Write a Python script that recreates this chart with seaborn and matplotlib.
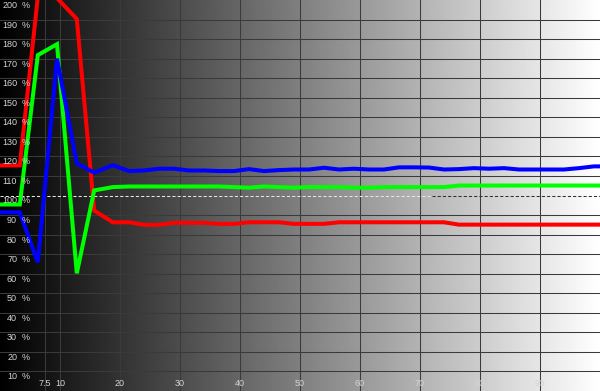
import numpy as np
import pandas as pd
import matplotlib
matplotlib.use("Agg")
import matplotlib.pyplot as plt
import seaborn as sns

# ---- data ----
x_pct = [0, 3.3, 6.3, 9.5, 12.8, 15.7, 18.8, 21.5, 24, 26.5, 29, 31.5, 34, 36.5,
         39, 41.5, 44, 46.5, 49, 51.5, 54, 56.5, 59, 61.5, 64, 66.5, 69, 71.5,
         74, 76.5, 79, 81.5, 84, 86.5, 89, 91.5, 94, 96.5, 99, 100]
red = [115.4, 115.4, 201.5, 201.0, 190.3, 92.3, 86.3, 86.3, 85.0, 85.0, 86.0, 86.0, 86.0, 85.5,
       85.5, 86.3, 86.3, 86.3, 85.5, 85.5, 85.5, 86.3, 86.3, 86.3, 86.3, 86.3, 86.3, 86.3,
       86.3, 85.1, 85.1, 85.1, 85.1, 85.1, 85.1, 85.1, 85.1, 85.1, 85.1, 85.1]
green = [95.4, 95.4, 171.8, 177.4, 60.2, 102.6, 104.3, 104.6, 104.6, 104.6, 104.6, 104.6, 104.6, 104.6,
         104.3, 104.0, 104.6, 104.3, 104.0, 104.3, 104.3, 104.3, 104.0, 104.0, 104.3, 104.3, 104.3, 104.3,
         104.3, 105.1, 105.1, 105.1, 105.1, 105.1, 105.1, 105.1, 105.1, 105.1, 105.1, 105.1]
blue = [91.4, 91.4, 65.8, 170.0, 116.4, 111.7, 115.5, 112.5, 112.8, 113.7, 113.7, 112.8, 112.8, 112.5,
        112.5, 113.5, 112.5, 113.0, 113.3, 113.3, 114.2, 113.3, 113.7, 113.3, 113.3, 114.4, 114.4, 114.3,
        113.3, 113.5, 114.0, 113.7, 114.0, 113.3, 113.3, 113.3, 113.3, 114.0, 114.9, 114.9]

y_ticks = list(range(10, 201, 10))
x_ticks = [7.5, 10, 20, 30, 40, 50, 60, 70, 80, 90]
x_labels = ["7.5", "10", "20", "30", "40", "50", "60", "70", "80", "90"]

df = pd.concat([
    pd.DataFrame({"x": x_pct, "v": red, "ch": "R"}),
    pd.DataFrame({"x": x_pct, "v": green, "ch": "G"}),
    pd.DataFrame({"x": x_pct, "v": blue, "ch": "B"}),
])

fig = plt.figure(figsize=(6, 3.91), dpi=100)
ax = fig.add_axes([0, 0, 1, 1])
ax.set_xlim(0, 100)
ax.set_ylim(0, 200)
ax.set_axis_off()

# background gradient black -> white
grad = np.linspace(0, 1, 600).reshape(1, -1)
ax.imshow(grad, extent=[0, 100, 0, 200], aspect="auto", cmap="gray",
          vmin=0, vmax=1, zorder=0, interpolation="bilinear")

grid_c = "#3a3a3a"
for v in x_ticks:
    ax.axvline(v, color=grid_c, lw=0.75, zorder=1)
for v in y_ticks:
    if v != 100 and v < 200:
        ax.axhline(v, color=grid_c, lw=0.75, zorder=1)
ax.plot([0, 72], [100, 100], color="#e6e6e6", lw=0.75, ls=(0, (3, 2)), zorder=1)
ax.plot([72, 100], [100, 100], color="#303030", lw=0.75, ls=(0, (3, 2)), zorder=1)

sns.lineplot(data=df, x="x", y="v", hue="ch", hue_order=["R", "G", "B"],
             palette={"R": "#ff0000", "G": "#00ff00", "B": "#0000ff"},
             lw=2.9, legend=False, ax=ax, zorder=3, estimator=None, sort=False)
for ln in ax.get_lines()[-3:]:
    ln.set_solid_joinstyle("miter")
ax.set_xlim(0, 100)
ax.set_ylim(0, 200)

lab_c = "#d4d4d4"
fnt = "Liberation Sans"
for v in y_ticks:
    ax.text(2.85, v - 2.8, str(v), color=lab_c, fontsize=6.5, family=fnt,
            ha="right", va="center", zorder=4)
    ax.text(3.6, v - 2.8, "%", color=lab_c, fontsize=6.5, family=fnt,
            ha="left", va="center", zorder=4)
for v, s in zip(x_ticks, x_labels):
    ax.text(v, 4.0, s, color=lab_c, fontsize=6.5, family=fnt,
            ha="center", va="center", zorder=4)

fig.savefig("out.png", dpi=100)
